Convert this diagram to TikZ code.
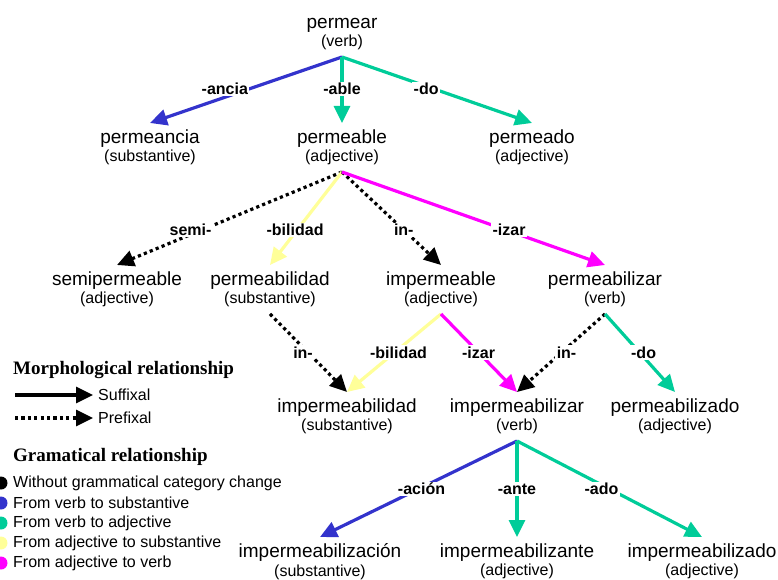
\documentclass[tikz,border=0pt]{standalone}
\usepackage{fontspec}
\setmainfont{Liberation Sans}
\newfontfamily\legserif{Liberation Serif}
\usetikzlibrary{arrows.meta}
\definecolor{vsub}{HTML}{3333CC}
\definecolor{vadj}{HTML}{00CC99}
\definecolor{asub}{HTML}{FFFF99}
\definecolor{averb}{HTML}{FF00FF}
\newcommand{\wcat}[1]{\\{\fontsize{16}{18.5}\selectfont(#1)}}

\begin{document}
\begin{tikzpicture}[x=1pt,y=-1pt,
 word/.style={align=center,font=\fontsize{19}{18.5}\selectfont,inner xsep=2pt,inner ysep=6.5pt,anchor=north},
 suf/.style={line width=3.2pt,-{Triangle[length=17pt,width=16pt]}},
 pre/.style={suf,black,dash pattern=on 3.2pt off 3.2pt},
 lab/.style={font=\fontsize{16}{17}\selectfont\bfseries,text=black,fill=white,inner sep=1.5pt},
 leg/.style={font=\fontsize{16}{17}\selectfont,anchor=west,inner sep=0pt},
 legtitle/.style={font=\fontsize{19}{20}\selectfont\legserif\bfseries,anchor=west,inner sep=0pt}]
\useasboundingbox (0,0) rectangle (778,580);

\node[word,anchor=south] (permear) at (342,57) {permear\wcat{verb}};
\node[word] (permeancia) at (150,123) {permeancia\wcat{substantive}};
\node[word] (permeable) at (342,123) {permeable\wcat{adjective}};
\node[word] (permeado) at (532,123) {permeado\wcat{adjective}};
\node[word] (semiperm) at (117,265) {semipermeable\wcat{adjective}};
\node[word] (permeabilidad) at (270,265) {permeabilidad\wcat{substantive}};
\node[word] (impermeable) at (441,265) {impermeable\wcat{adjective}};
\node[word] (permeabilizar) at (605,265) {permeabilizar\wcat{verb}};
\node[word] (impermeabilidad) at (347,392) {impermeabilidad\wcat{substantive}};
\node[word] (impermeabilizar) at (517,392) {impermeabilizar\wcat{verb}};
\node[word] (permeabilizado) at (675,392) {permeabilizado\wcat{adjective}};
\node[word] (imperzacion) at (320,537) {impermeabilización\wcat{substantive}};
\node[word] (imperzante) at (517,537) {impermeabilizante\wcat{adjective}};
\node[word] (imperzado) at (702,537) {impermeabilizado\wcat{adjective}};

\draw[suf,vsub] (permear.south) -- node[lab,pos=.48,xshift=-25pt] (ancia) {-ancia} (permeancia.north);
\draw[suf,vadj] (permear.south) -- node[lab,pos=.485] (able) {-able} (permeable.north);
\draw[suf,vadj] (permear.south) -- node[lab,pos=.485,xshift=-8pt] (do) {-do} (permeado.north);

\draw[pre] (permeable.south) -- node[lab,pos=.624,xshift=-11pt] (semi) {semi-} (semiperm.north);
\draw[suf,asub] (permeable.south) -- node[lab,pos=.624,xshift=-2pt] (bilidad) {-bilidad} (permeabilidad.north);
\draw[pre] (permeable.south) -- node[lab,pos=.624] (in) {in-} (impermeable.north);
\draw[suf,averb] (permeable.south) -- node[lab,pos=.624,xshift=3pt] (izar) {-izar} (permeabilizar.north);

\draw[pre] (permeabilidad.south) -- node[lab,pos=.494,xshift=-5pt] (inb) {in-} (impermeabilidad.north);
\draw[suf,asub] (impermeable.south) -- node[lab,pos=.494,xshift=4pt] (bilidadb) {-bilidad} (impermeabilidad.north);
\draw[suf,averb] (impermeable.south) -- node[lab,pos=.494] (izarb) {-izar} (impermeabilizar.north);
\draw[pre] (permeabilizar.south) -- node[lab,pos=.494,xshift=5pt] (inc) {in-} (impermeabilizar.north);
\draw[suf,vadj] (permeabilizar.south) -- node[lab,pos=.494,xshift=4pt] (dob) {-do} (permeabilizado.north);

\draw[suf,vsub] (impermeabilizar.south) -- node[lab,pos=.5,xshift=3pt] (acion) {-ación} (imperzacion.north);
\draw[suf,vadj] (impermeabilizar.south) -- node[lab,pos=.5] (ante) {-ante} (imperzante.north);
\draw[suf,vadj] (impermeabilizar.south) -- node[lab,pos=.5,xshift=-8pt] (ado) {-ado} (imperzado.north);

\node[legtitle] (morph) at (13,370) {Morphological relationship};
\coordinate (sufstart) at (15,395);
\node[leg,inner xsep=5pt] (suffixal) at (93,395) {Suffixal};
\draw[suf] (sufstart) -- (suffixal.west);
\coordinate (prestart) at (15,418);
\node[leg,inner xsep=5pt] (prefixal) at (93,418) {Prefixal};
\draw[pre] (prestart) -- (prefixal.west);

\node[legtitle] (gram) at (13,457) {Gramatical relationship};
\foreach \c/\t [count=\i] in {black/Without grammatical category change,vsub/From verb to substantive,vadj/From verb to adjective,asub/From adjective to substantive,averb/From adjective to verb} {
 \fill[\c] (1,463+20*\i) circle (6.5pt);
 \node[leg] (gram\i) at (13,463+20*\i) {\t};
}
\end{tikzpicture}
\end{document}
